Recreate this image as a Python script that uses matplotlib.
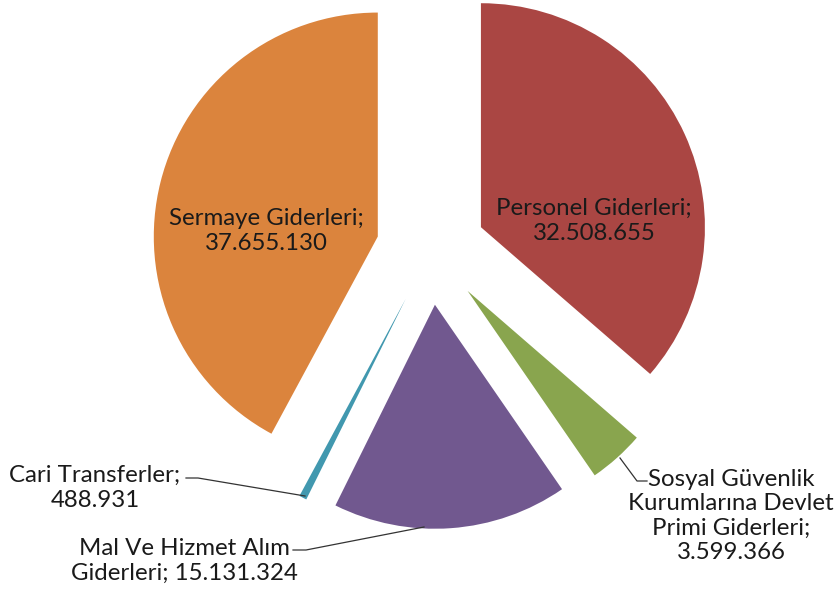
"""Exploded pie of expense categories (Excel-style)."""

import matplotlib

matplotlib.use("Agg")
import matplotlib.pyplot as plt

categories = [
    "Personel Giderleri",
    "Sosyal Güvenlik Kurumlarına Devlet Primi Giderleri",
    "Mal Ve Hizmet Alım Giderleri",
    "Cari Transferler",
    "Sermaye Giderleri",
]
values = [32508655, 3599366, 15131324, 488931, 37655130]
label_texts = [
    "Personel Giderleri;\n32.508.655",
    "Sosyal Güvenlik\nKurumlarına Devlet\nPrimi Giderleri;\n3.599.366",
    "Mal Ve Hizmet Alım\nGiderleri; 15.131.324",
    "Cari Transferler;\n488.931",
    "Sermaye Giderleri;\n37.655.130",
]
colors = ["#AA4643", "#89A54E", "#71588F", "#4198AF", "#DB843D"]

W, H = 839, 594
CX, CY, R = 431, 250, 224  # pie centre / radius in image pixels


def px(x, y):
    """image pixel -> data coords (radius 1 pie)"""
    return (x - CX) / R, (CY - y) / R


fig = plt.figure(figsize=(W / 100, H / 100), dpi=100)
ax = fig.add_axes([0, 0, 1, 1])
wedges, _ = ax.pie(
    values,
    colors=colors,
    startangle=90,
    counterclock=False,
    explode=[0.245] * len(values),
    radius=1.0,
    wedgeprops={"linewidth": 0},
)
ax.set_xlim(-CX / R, (W - CX) / R)
ax.set_ylim(-(H - CY) / R, CY / R)
ax.set_aspect("equal")
ax.axis("off")

font = dict(family=["Lato", "DejaVu Sans"], fontsize=17.3, color="#1a1a1a",
            ha="center", va="center", linespacing=1.2)

# label positions (image px) and leader lines
label_pos = [(594, 221), (731, 516), (184, 561), (95, 488), (266, 231)]
leaders = [
    None,
    [(620, 458), (637, 481), (647, 481)],
    [(293, 550), (306, 550), (424, 527)],
    [(186, 478), (198, 478), (305, 496)],
    None,
]
for text, pos, lead in zip(label_texts, label_pos, leaders):
    ax.text(*px(*pos), text, **font)
    if lead:
        xs, ys = zip(*[px(*p) for p in lead])
        ax.plot(xs, ys, color="#333333", linewidth=0.9)

fig.savefig("out.png", dpi=100)
